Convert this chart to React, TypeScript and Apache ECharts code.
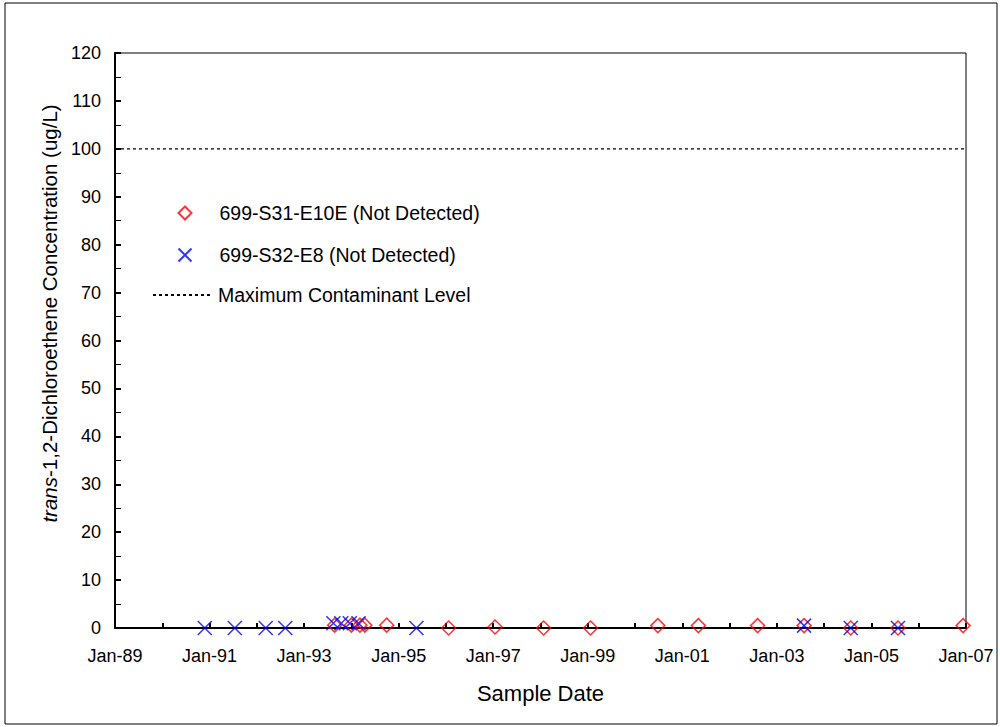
import React, { useEffect, useRef } from "react";
import * as echarts from "echarts";

const s31Dates = [
  "1993-08-25", "1994-01-01", "1994-03-08", "1994-04-15", "1994-10-01",
  "1996-01-22", "1997-01-15", "1998-01-25", "1999-01-22", "2000-06-25",
  "2001-05-05", "2002-08-05", "2003-07-30", "2004-07-25", "2005-07-25",
  "2006-12-10",
];
const s31Values = [0.6, 0.6, 0.6, 0.6, 0.6, 0, 0.2, 0, 0, 0.5, 0.5, 0.5, 0.5, 0, 0, 0.5];

const s32Dates = [
  "1990-11-25", "1991-07-15", "1992-03-10", "1992-08-08", "1993-08-15",
  "1993-10-15", "1993-12-20", "1994-02-25", "1995-05-18", "2003-07-30",
  "2004-07-25", "2005-07-25",
];
const s32Values = [0, 0, 0, 0, 1, 1, 1, 1, 0, 0.5, 0, 0];

const mclValue = 100;
const xMinYear = 1989;
const xMaxYear = 2007;
const yTicks = [0, 10, 20, 30, 40, 50, 60, 70, 80, 90, 100, 110, 120];

const seriesNames = [
  "699-S31-E10E (Not Detected)",
  "699-S32-E8 (Not Detected)",
  "Maximum Contaminant Level",
];

function toYear(d: string): number {
  const [y, m, day] = d.split("-").map(Number);
  const start = Date.UTC(y, 0, 1);
  const end = Date.UTC(y + 1, 0, 1);
  const t = Date.UTC(y, m - 1, day);
  return y + (t - start) / (end - start);
}

const FONT = "'Liberation Sans', Arial, sans-serif";
const X_PATH = "path://M0,0L10,10M10,0L0,10";

export default function App() {
  const ref = useRef<HTMLDivElement>(null);
  useEffect(() => {
    if (!ref.current) return;
    const chart = echarts.init(ref.current, undefined, { renderer: "svg" });
    const legendText = { fontSize: 19.5, fontFamily: FONT, color: "#000" };
    chart.setOption({
      animation: false,
      backgroundColor: "#ffffff",
      textStyle: { fontFamily: FONT, color: "#000" },
      graphic: [
        {
          type: "rect",
          shape: { x: 5, y: 3, width: 992, height: 721 },
          style: { fill: "none", stroke: "#000", lineWidth: 1 },
          silent: true,
        },
      ],
      grid: {
        left: 115,
        top: 53,
        right: 34,
        bottom: 99,
        show: true,
        borderColor: "#000",
        borderWidth: 1,
        backgroundColor: "transparent",
      },
      legend: [
        {
          orient: "vertical",
          left: 171,
          top: 198,
          itemWidth: 13,
          itemHeight: 13,
          itemGap: 22,
          textStyle: { ...legendText, padding: [0, 0, 0, 23] },
          data: [seriesNames[0], seriesNames[1]],
          selectedMode: false,
        },
        {
          orient: "vertical",
          left: 147,
          top: 280,
          itemWidth: 58,
          itemHeight: 13,
          textStyle: { ...legendText, padding: [0, 0, 0, 2] },
          data: [
            {
              name: seriesNames[2],
              itemStyle: { color: "rgba(0,0,0,0)", borderWidth: 0, opacity: 0 },
            },
          ],
          selectedMode: false,
        },
      ],
      xAxis: {
        type: "value",
        min: xMinYear,
        max: xMaxYear,
        interval: 1,
        name: "Sample Date",
        nameLocation: "middle",
        nameGap: 54,
        nameTextStyle: { fontSize: 22, fontFamily: FONT, color: "#000" },
        axisLine: { lineStyle: { color: "#000", width: 2 } },
        axisTick: { inside: true, length: 5, lineStyle: { color: "#000", width: 2 } },
        splitLine: { show: false },
        axisLabel: {
          margin: 19,
          fontSize: 18,
          fontFamily: FONT,
          color: "#000",
          formatter: (v: number) =>
            (Math.round(v) - xMinYear) % 2 === 0 ? "Jan-" + String(Math.round(v)).slice(2) : "",
        },
      },
      yAxis: {
        type: "value",
        min: yTicks[0],
        max: yTicks[yTicks.length - 1],
        interval: 10,
        name: "{i|trans}-1,2-Dichloroethene Concentration (ug/L)",
        nameLocation: "middle",
        nameGap: 53,
        nameTextStyle: {
          fontSize: 20.5,
          fontFamily: FONT,
          color: "#000",
          padding: [0, 0, 0, 54],
          rich: { i: { fontStyle: "italic", fontSize: 20.5, fontFamily: FONT, color: "#000" } },
        },
        axisLine: { show: true, lineStyle: { color: "#000", width: 2 } },
        axisTick: { show: true, inside: true, length: 6, lineStyle: { color: "#000", width: 2 } },
        minorTick: { show: true, splitNumber: 2, length: 6, lineStyle: { color: "#000", width: 1 } },
        splitLine: { show: false },
        axisLabel: { margin: 14, fontSize: 18, fontFamily: FONT, color: "#000" },
      },
      series: [
        {
          name: seriesNames[0],
          type: "scatter",
          symbol: "diamond",
          symbolSize: 14,
          clip: false,
          itemStyle: { color: "rgba(0,0,0,0)", borderColor: "#ff0000", borderWidth: 1.5 },
          data: s31Dates.map((d, i) => [toYear(d), s31Values[i]]),
          z: 3,
        },
        {
          name: seriesNames[1],
          type: "scatter",
          symbol: X_PATH,
          symbolSize: 14,
          clip: false,
          itemStyle: { color: "none", borderColor: "#0000ff", borderWidth: 1.5 },
          data: s32Dates.map((d, i) => [toYear(d), s32Values[i]]),
          z: 4,
        },
        {
          name: seriesNames[2],
          type: "line",
          symbol: "none",
          lineStyle: { color: "#000", width: 1.3, type: [3, 3] },
          itemStyle: { color: "#000" },
          data: [
            [xMinYear, mclValue],
            [xMaxYear, mclValue],
          ],
          z: 2,
        },
      ],
    });
    return () => chart.dispose();
  }, []);
  return (
    <div
      ref={ref}
      style={{ position: "fixed", left: 0, top: 0, width: 1000, height: 727 }}
    />
  );
}
